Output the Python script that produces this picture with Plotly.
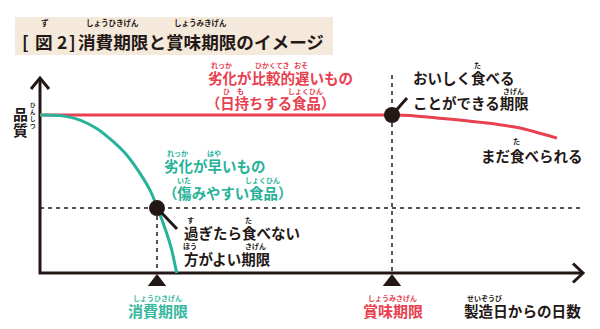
import plotly.graph_objects as go

# ---------------- data (days from manufacture, quality index) ----------------
green_days = [0, 2.0, 4.0, 5.67, 7.33, 8.67, 10.0, 11.0, 11.83, 12.67, 13.17, 13.67]
green_quality = [100, 99.6, 96.8, 91.5, 83.1, 74.7, 63.1, 52.5, 39.9, 25.1, 14.6, 0]

red_days = [0, 35.2, 37.0, 39.7, 44.7, 48.0, 51.7]
red_quality = [100, 100, 99.7, 98.1, 94.9, 91.8, 85.4]

use_by_day = 11.7        # 消費期限
best_before_day = 35.2   # 賞味期限
use_by_quality = 41.1
best_before_quality = 100

# ---------------- geometry helpers ----------------
W, H = 600, 329
X0_PX, Y0_PX = 40, 273          # origin position in pixels
PX_PER_DAY, PX_PER_Q = 10.0, 1.58
x_range = [(0 - X0_PX) / PX_PER_DAY, (W - X0_PX) / PX_PER_DAY]
y_range = [(Y0_PX - H) / PX_PER_Q, (Y0_PX - 0) / PX_PER_Q]


def dx(px):
    return (px - X0_PX) / PX_PER_DAY


def dy(py):
    return (Y0_PX - py) / PX_PER_Q


INK = "#231815"
RED = "#e8404f"
GREEN = "#27b29a"
GREEN_LBL = "#35b89f"
BEIGE = "#f4e9da"
FONT = "Noto Sans CJK JP"

fig = go.Figure()

# axes lines with chevron arrow heads
ax_x_end = dx(583)
ax_y_end = dy(78)
fig.add_trace(go.Scatter(x=[0, 0, ax_x_end], y=[ax_y_end, 0, 0], mode="lines",
                         line=dict(color=INK, width=3), hoverinfo="skip"))
fig.add_trace(go.Scatter(x=[dx(31), 0, dx(49)], y=[dy(89), ax_y_end, dy(89)], mode="lines",
                         line=dict(color=INK, width=3), hoverinfo="skip"))
fig.add_trace(go.Scatter(x=[dx(573), ax_x_end, dx(573)], y=[dy(263.5), 0, dy(282.5)], mode="lines",
                         line=dict(color=INK, width=3), hoverinfo="skip"))

# dashed guide lines
dash = "4px,4px"
fig.add_trace(go.Scatter(x=[0, dx(580)], y=[use_by_quality, use_by_quality], mode="lines",
                         line=dict(color=INK, width=1.5, dash=dash), hoverinfo="skip"))
fig.add_trace(go.Scatter(x=[use_by_day, use_by_day], y=[use_by_quality, 0], mode="lines",
                         line=dict(color=INK, width=1.5, dash=dash), hoverinfo="skip"))
fig.add_trace(go.Scatter(x=[best_before_day, best_before_day], y=[dy(75), 0], mode="lines",
                         line=dict(color=INK, width=1.5, dash=dash), hoverinfo="skip"))

# quality curves
fig.add_trace(go.Scatter(x=red_days, y=red_quality, mode="lines",
                         line=dict(color=RED, width=3, shape="spline", smoothing=0.6), hoverinfo="skip"))
fig.add_trace(go.Scatter(x=green_days, y=green_quality, mode="lines",
                         line=dict(color=GREEN, width=3, shape="spline", smoothing=0.6), hoverinfo="skip"))

# pointer lines
fig.add_trace(go.Scatter(x=[best_before_day, dx(407)], y=[best_before_quality, dy(98)], mode="lines",
                         line=dict(color=INK, width=3), hoverinfo="skip"))
fig.add_trace(go.Scatter(x=[use_by_day, dx(177)], y=[use_by_quality, dy(229)], mode="lines",
                         line=dict(color=INK, width=3), hoverinfo="skip"))

# dots
fig.add_trace(go.Scatter(x=[use_by_day, best_before_day], y=[use_by_quality, best_before_quality], mode="markers",
                         marker=dict(color=INK, size=16), hoverinfo="skip"))
# triangles below the axis
fig.add_trace(go.Scatter(x=[use_by_day, best_before_day], y=[dy(282), dy(282)], mode="markers",
                         marker=dict(color=INK, size=16, symbol="triangle-up"), hoverinfo="skip"))

# ---------------- text ----------------
ann = []


def txt(x, y, s, size, color, anchor="left"):
    ann.append(dict(x=x / W, y=1 - y / H, xref="paper", yref="paper", text=s, showarrow=False,
                    xanchor=anchor, yanchor="middle", borderpad=0,
                    font=dict(family=FONT, size=size, color=color, weight="bold")))


def ruby(x0, y, size, readings, color, rsize=7, off=12.5):
    # readings: (start char index, number of chars, kana)
    for idx, n, kana in readings:
        cx = x0 + (idx + n / 2) * size
        ann.append(dict(x=cx / W, y=1 - (y - off) / H, xref="paper", yref="paper", text=kana,
                        showarrow=False, xanchor="center", yanchor="middle", borderpad=0,
                        font=dict(family=FONT, size=rsize, color=color, weight="bold")))


def line(x0, y, s, size, color, readings=(), rsize=7, off=12.5):
    txt(x0, y, s, size, color)
    ruby(x0, y, size, readings, color, rsize, off)


# title
fig.add_shape(type="rect", xref="paper", yref="paper", x0=15 / W, x1=333 / W, y0=1 - 55 / H, y1=1 - 17 / H,
              fillcolor=BEIGE, line=dict(width=0), layer="below")
TS = 17.6
for ch, cx in [("[", 25.5), ("図", 44), ("2", 62), ("]", 72)]:
    txt(cx, 42, ch, TS, INK, anchor="center")
ann.append(dict(x=45 / W, y=1 - 22.5 / H, xref="paper", yref="paper", text="ず", showarrow=False,
                xanchor="center", yanchor="middle", borderpad=0,
                font=dict(family=FONT, size=7.5, color=INK, weight="bold")))
line(77, 42, "消費期限と賞味期限のイメージ", TS, INK,
     [(0, 4, "しょうひきげん"), (5, 4, "しょうみきげん")], rsize=7.5, off=19.5)

S = 14.5
PS = S * 0.95 + 0.6
# red labels
line(207, 77, "劣化が比較的遅いもの", S, RED, [(0, 2, "れっか"), (3, 3, "ひかくてき"), (6, 1, "おそ")])
line(205, 103, "（日持ちする食品）", PS, RED, [(1, 1, "ひ"), (2, 1, "も"), (6, 2, "しょくひん")])

# black labels at best-before
line(412, 77, "おいしく食べる", S, INK, [(4, 1, "た")])
line(412, 103, "ことができる期限", S, INK, [(6, 2, "きげん")])
line(480, 155, "まだ食べられる", S, INK, [(2, 1, "た")], off=14)

# green labels
line(163, 165, "劣化が早いもの", S, GREEN, [(0, 2, "れっか"), (3, 1, "はや")])
line(162, 192, "（傷みやすい食品）", PS, GREEN, [(1, 1, "いた"), (6, 2, "しょくひん")])

# black labels at use-by
line(183, 232, "過ぎたら食べない", S, INK, [(0, 1, "す"), (4, 1, "た")])
line(183, 258, "方がよい期限", S, INK, [(0, 1, "ほう"), (4, 2, "きげん")], off=12)

# y-axis label (vertical)
txt(20, 113, "品", 15, INK, anchor="center")
txt(20, 129, "質", 15, INK, anchor="center")
ann.append(dict(x=33 / W, y=1 - 116 / H, xref="paper", yref="paper", text="ひ<br>ん<br>し<br>つ",
                showarrow=False, xanchor="center", yanchor="middle", borderpad=0,
                font=dict(family=FONT, size=5.5, color=INK, weight="bold")))

# bottom labels
line(127, 310, "消費期限", 15, GREEN_LBL, [(0, 4, "しょうひきげん")])
line(362, 310, "賞味期限", 15, RED, [(0, 4, "しょうみきげん")])
line(463, 310, "製造日からの日数", 14.6, INK, [(0, 3, "せいぞうび")])

fig.update_layout(
    width=W, height=H, margin=dict(l=0, r=0, t=0, b=0),
    paper_bgcolor="white", plot_bgcolor="white", showlegend=False,
    xaxis=dict(range=x_range, visible=False, fixedrange=True),
    yaxis=dict(range=y_range, visible=False, fixedrange=True),
    annotations=ann,
)

fig.write_html("out.html")
